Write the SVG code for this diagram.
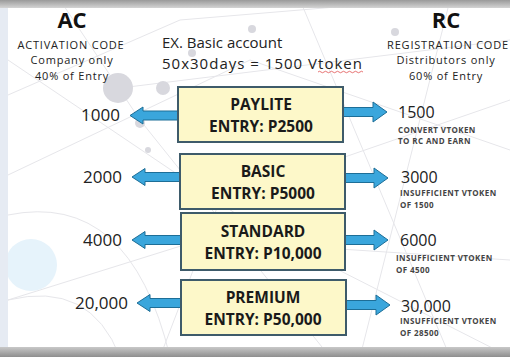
<svg xmlns="http://www.w3.org/2000/svg" width="510" height="357" viewBox="0 0 510 357">
<defs>
<style>
.t{font-family:"Open Sans","Liberation Sans",sans-serif;fill:#222}
.box{fill:#fdf8c9;stroke:#3e5b6a;stroke-width:2}
.arr{fill:#3aa6dc;stroke:#1d6e97;stroke-width:1}
.net{stroke:#e6e6ea;stroke-width:1;fill:none}
.dot{fill:#d8d8de}
.hd{font-size:22px;font-weight:bold;text-anchor:middle;fill:#111}
.sub{font-size:11px;letter-spacing:0.8px;text-anchor:middle}
.bx{font-size:15.5px;font-weight:bold;text-anchor:middle;fill:#1a1a1a}
.lv{font-size:17px;text-anchor:end}
.rv{font-size:16px}
.sm{font-size:8px;letter-spacing:0.4px;font-weight:bold;fill:#444}
</style>
<linearGradient id="top" x1="0" y1="0" x2="0" y2="1"><stop offset="0" stop-color="#9a9a9a"/><stop offset="1" stop-color="#d4d4d4"/></linearGradient>
<linearGradient id="bot" x1="0" y1="0" x2="0" y2="1"><stop offset="0" stop-color="#c8c8c8"/><stop offset="1" stop-color="#8e8e8e"/></linearGradient>
</defs>
<rect x="0" y="0" width="510" height="357" fill="#ffffff"/>
<g id="background">
<path class="net" d="M8 95 L180 20 L420 0 M60 0 L140 120 L330 357 M8 175 L250 60 L510 150 M120 88 L510 40 M8 60 L260 230 L510 357 M300 0 L450 357 M8 300 L200 240 L510 260 M450 0 L360 357 M160 357 L220 200 L510 100"/>
<path class="net" d="M8 300 Q90 280 120 357"/>
<path class="net" d="M8 215 Q130 190 170 357"/>
<circle class="dot" cx="118" cy="88" r="15"/>
<circle class="dot" cx="163" cy="88" r="7"/>
<circle class="dot" cx="192" cy="53" r="4"/>
<circle class="dot" cx="252" cy="29" r="4"/>
<circle class="dot" cx="140" cy="123" r="5"/>
<circle class="dot" cx="148" cy="150" r="3"/>
<circle class="dot" cx="395" cy="32" r="4"/>
<circle cx="31" cy="265" r="26" fill="#e6f3fb"/>
<rect x="0" y="0" width="8" height="357" fill="#e6ebf3"/>
<rect x="0" y="0" width="510" height="8" fill="url(#top)"/>
<rect x="0" y="347" width="510" height="10" fill="url(#bot)"/>
</g>
<g id="header-ac">
<text class="t hd" x="72" y="28">AC</text>
<text class="t sub" x="71" y="49">ACTIVATION CODE</text>
<text class="t sub" x="72" y="64">Company only</text>
<text class="t sub" x="72" y="80">40% of Entry</text>
</g>
<g id="header-example">
<text class="t" x="162" y="48" font-size="15">EX. Basic account</text>
<text class="t" x="162" y="69" font-size="15" textLength="200" lengthAdjust="spacing">50x30days = 1500 Vtoken</text>
<path d="M318 72 q1.5 -1.5 3 0 t3 0 t3 0 t3 0 t3 0 t3 0 t3 0 t3 0 t3 0 t3 0 t3 0 t3 0 t3 0 t3 0 t3 0" fill="none" stroke="#e05050" stroke-width="0.8"/>
</g>
<g id="header-rc">
<text class="t hd" x="446" y="28">RC</text>
<text class="t sub" x="448" y="49">REGISTRATION CODE</text>
<text class="t sub" x="446" y="64">Distributors only</text>
<text class="t sub" x="446" y="80">60% of Entry</text>
</g>
<g id="connectors">
<path class="arr" d="M130 115.5 L143 107 L143 111 L178 111 L178 120 L143 120 L143 124 Z"/>
<path class="arr" d="M387 112 L373 102 L373 107.5 L343 107.5 L343 116.5 L373 116.5 L373 122 Z"/>
<path class="arr" d="M132 177 L145 168.5 L145 172.5 L180 172.5 L180 181.5 L145 181.5 L145 185.5 Z"/>
<path class="arr" d="M388 178 L374 168 L374 173.5 L345 173.5 L345 182.5 L374 182.5 L374 188 Z"/>
<path class="arr" d="M132 240 L145 231.5 L145 235.5 L181 235.5 L181 244.5 L145 244.5 L145 248.5 Z"/>
<path class="arr" d="M388 240 L374 230 L374 235.5 L345 235.5 L345 244.5 L374 244.5 L374 250 Z"/>
<path class="arr" d="M137 303 L150 294.5 L150 298.5 L181 298.5 L181 307.5 L150 307.5 L150 311.5 Z"/>
<path class="arr" d="M390 305 L376 295 L376 300.5 L346 300.5 L346 309.5 L376 309.5 L376 315 Z"/>
</g>
<g id="paylite">
<rect class="box" x="178" y="87" width="165" height="55"/>
<text class="t bx" x="261" y="110">PAYLITE</text>
<text class="t bx" x="261" y="132">ENTRY: P2500</text>
</g>
<g id="basic">
<rect class="box" x="180" y="154" width="165" height="55"/>
<text class="t bx" x="263" y="177">BASIC</text>
<text class="t bx" x="263" y="199">ENTRY: P5000</text>
</g>
<g id="standard">
<rect class="box" x="181" y="213" width="164" height="57"/>
<text class="t bx" x="263" y="237">STANDARD</text>
<text class="t bx" x="263" y="259">ENTRY: P10,000</text>
</g>
<g id="premium">
<rect class="box" x="181" y="280" width="165" height="55"/>
<text class="t bx" x="263" y="303">PREMIUM</text>
<text class="t bx" x="263" y="325">ENTRY: P50,000</text>
</g>
<g id="ac-values">
<text class="t lv" x="120" y="121">1000</text>
<text class="t lv" x="122" y="183">2000</text>
<text class="t lv" x="122" y="246">4000</text>
<text class="t lv" x="128" y="309">20,000</text>
</g>
<g id="rc-paylite">
<text class="t rv" x="398" y="118">1500</text>
<text class="t sm" x="398" y="133">CONVERT VTOKEN</text>
<text class="t sm" x="398" y="144">TO RC AND EARN</text>
</g>
<g id="rc-basic">
<text class="t rv" x="401" y="183">3000</text>
<text class="t sm" x="400" y="196">INSUFFICIENT VTOKEN</text>
<text class="t sm" x="400" y="208">OF 1500</text>
</g>
<g id="rc-standard">
<text class="t rv" x="400" y="246">6000</text>
<text class="t sm" x="396" y="261">INSUFFICIENT VTOKEN</text>
<text class="t sm" x="396" y="273">OF 4500</text>
</g>
<g id="rc-premium">
<text class="t rv" x="401" y="312">30,000</text>
<text class="t sm" x="400" y="324">INSUFFICIENT VTOKEN</text>
<text class="t sm" x="400" y="336">OF 28500</text>
</g>
</svg>
